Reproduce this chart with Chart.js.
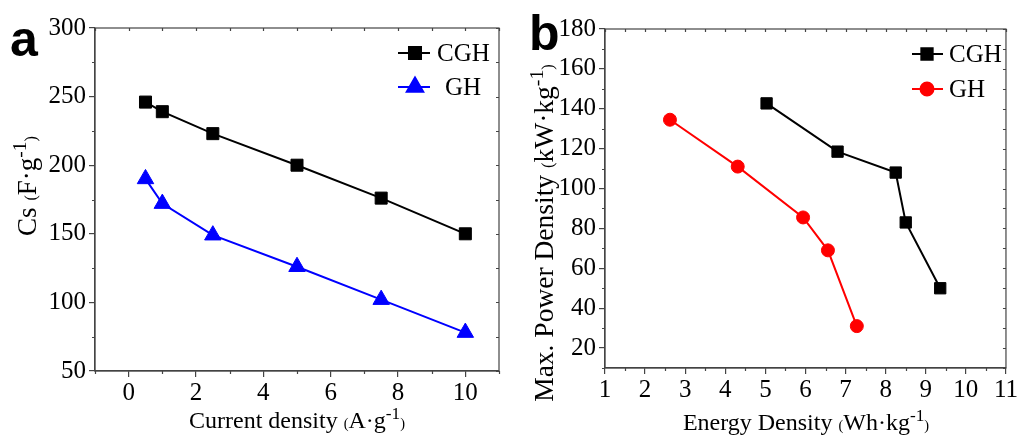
<!DOCTYPE html>
<html>
<head>
<meta charset="utf-8">
<script src="https://cdn.jsdelivr.net/npm/chart.js@4/dist/chart.umd.min.js"></script>
<style>
  body { margin: 0; background: #fff; width: 1019px; height: 438px; overflow: hidden; position: relative; font-family: 'Liberation Serif', 'Times New Roman', serif; }
  canvas { position: absolute; top: 0; }
  #chartA { left: 0; }
  #chartB { left: 510px; }
  .lbl { position: absolute; white-space: nowrap; color: #000; line-height: 1; transform: translate(-50%, -50%); }
  .rot { transform: translate(-50%, -50%) rotate(-90deg); }
  .par { font-size: 60%; }
  .u sup { font-size: 72%; vertical-align: 0.5em; line-height: 0; }
  .letter { position: absolute; font-family: 'Liberation Sans', Arial, sans-serif; font-weight: bold; font-size: 50px; line-height: 1; }
</style>
</head>
<body>
<canvas id="chartA" width="510" height="438"></canvas>
<canvas id="chartB" width="509" height="438"></canvas>

<div class="letter" style="left:10px; top:14px;">a</div>
<div class="letter" style="left:529px; top:8px;">b</div>

<div class="lbl" style="left:297px; top:420px; font-size:24px;">Current density <span class="par">(</span><span class="u">A·g<sup>-1</sup></span><span class="par">)</span></div>
<div class="lbl rot" style="left:27px; top:186px; font-size:27px;">Cs <span class="par">(</span><span class="u">F·g<sup>-1</sup></span><span class="par">)</span></div>
<div class="lbl" style="left:806px; top:422px; font-size:24px;">Energy Density <span class="par">(</span><span class="u">Wh·kg<sup>-1</sup></span><span class="par">)</span></div>
<div class="lbl rot" style="left:544px; top:233px; font-size:27.5px;">Max. Power Density <span class="par">(</span><span class="u">kW·kg<sup>-1</sup></span><span class="par">)</span></div>

<script>
// panel a: specific capacitance vs current density
const currentDensity = [0.5, 1, 2.5, 5, 7.5, 10];
const csCGH = [246, 239, 223, 200, 176, 150];
const csGH = [190, 172, 149, 126, 102, 78];
const xTicksA = [0, 2, 4, 6, 8, 10];
const yTicksA = [50, 100, 150, 200, 250, 300];

// panel b: Ragone plot
const energyCGH = [5.03, 6.8, 8.25, 8.5, 9.36];
const powerCGH = [142.7, 118.5, 108, 83, 50];
const energyGH = [2.62, 4.31, 5.94, 6.56, 7.28];
const powerGH = [134.5, 111, 85.5, 69, 31];
const xTicksB = [1, 2, 3, 4, 5, 6, 7, 8, 9, 10, 11];
const yTicksB = [20, 40, 60, 80, 100, 120, 140, 160, 180];

const seriesNames = ['CGH', 'GH'];

const axisColor = '#444';
const tickFont = { family: "'Liberation Serif', 'Times New Roman', serif", size: 25 };

function pairs(xs, ys) {
    return xs.map((x, i) => ({ x: x, y: ys[i] }));
}

// box frame, minor ticks and the small mirrored ticks on top/right
const framePlugin = {
    id: 'frame',
    afterDraw(chart, args, opts) {
        const { ctx, chartArea: a, scales } = chart;
        const xs = scales.x, ys = scales.y;
        ctx.save();
        ctx.strokeStyle = axisColor;
        ctx.lineWidth = 1.2;
        ctx.strokeRect(a.left, a.top, a.right - a.left, a.bottom - a.top);

        ctx.beginPath();
        for (let v = opts.xStart; v <= xs.max + 1e-9; v += opts.xMinor) {
            const px = Math.round(xs.getPixelForValue(v)) + 0.5;
            const isMajor = Math.abs(v / opts.xMajor - Math.round(v / opts.xMajor)) < 1e-6 && v >= opts.xFirst;
            if (!isMajor) {
                ctx.moveTo(px, a.bottom);
                ctx.lineTo(px, a.bottom + 3);
            }
            ctx.moveTo(px, a.top);
            ctx.lineTo(px, a.top + 3);
        }
        for (let v = opts.yStart; v <= ys.max + 1e-9; v += opts.yMinor) {
            const py = Math.round(ys.getPixelForValue(v)) + 0.5;
            const isMajor = Math.abs(v / opts.yMajor - Math.round(v / opts.yMajor)) < 1e-6 && v >= opts.yFirst;
            if (!isMajor) {
                ctx.moveTo(a.left, py);
                ctx.lineTo(a.left - 3, py);
            }
            ctx.moveTo(a.right, py);
            ctx.lineTo(a.right - 3, py);
        }
        ctx.stroke();
        ctx.restore();
    }
};

// legend drawn inside the plot, Origin style
const legendPlugin = {
    id: 'insideLegend',
    afterDatasetsDraw(chart, args, opts) {
        const ctx = chart.ctx;
        ctx.save();
        chart.data.datasets.forEach((ds, i) => {
            const row = opts.rows[i];
            ctx.strokeStyle = ds.borderColor;
            ctx.lineWidth = 2;
            ctx.beginPath();
            ctx.moveTo(row.x1, row.y);
            ctx.lineTo(row.x2, row.y);
            ctx.stroke();
            ctx.fillStyle = ds.pointBackgroundColor;
            Chart.helpers.drawPoint(ctx, {
                pointStyle: ds.pointStyle,
                radius: ds.pointRadius,
                borderWidth: 1
            }, row.mx, row.y);
            ctx.fillStyle = '#000';
            ctx.font = "25px 'Liberation Serif', 'Times New Roman', serif";
            ctx.textBaseline = 'middle';
            ctx.fillText(ds.label, row.tx, row.y + 1);
        });
        ctx.restore();
    }
};

function makeScale(min, max, tickValues, fixedSize, isY) {
    return {
        type: 'linear',
        min: min,
        max: max,
        afterBuildTicks(scale) {
            scale.ticks = tickValues.map(v => ({ value: v }));
        },
        afterFit(scale) {
            if (isY) scale.width = fixedSize; else scale.height = fixedSize;
        },
        ticks: {
            color: '#000',
            font: tickFont,
            padding: isY ? 3 : 1,
            maxRotation: 0,
            autoSkip: false
        },
        grid: {
            drawOnChartArea: false,
            drawTicks: true,
            tickLength: 6,
            color: axisColor,
            lineWidth: 1.2
        },
        border: { color: axisColor, width: 1.2 },
        title: { display: false }
    };
}

function makeDataset(label, xs, ys, color, style, radius) {
    return {
        label: label,
        data: pairs(xs, ys),
        showLine: true,
        borderColor: color,
        borderWidth: 2,
        backgroundColor: color,
        pointBackgroundColor: color,
        pointBorderColor: color,
        pointBorderWidth: 1,
        pointStyle: style,
        pointRadius: radius,
        pointHoverRadius: radius
    };
}

const baseOptions = {
    responsive: false,
    animation: false,
    devicePixelRatio: 1,
    events: []
};

new Chart(document.getElementById('chartA'), {
    type: 'scatter',
    data: {
        datasets: [
            makeDataset(seriesNames[0], currentDensity, csCGH, '#000000', 'rect', 8.5),
            makeDataset(seriesNames[1], currentDensity, csGH, '#0000ff', 'triangle', 9.5)
        ]
    },
    options: {
        ...baseOptions,
        layout: { padding: { top: 28, right: 11, left: 0, bottom: 0 } },
        scales: {
            x: makeScale(-1, 11, xTicksA, 67, false),
            y: makeScale(50, 300, yTicksA, 95, true)
        },
        plugins: {
            legend: { display: false },
            tooltip: { enabled: false },
            frame: { xStart: -1, xFirst: 0, xMinor: 1, xMajor: 2, yStart: 50, yFirst: 50, yMinor: 25, yMajor: 50 },
            insideLegend: {
                rows: [
                    { x1: 398, x2: 430, mx: 415, y: 53, tx: 437 },
                    { x1: 398, x2: 430, mx: 415, y: 87, tx: 445 }
                ]
            }
        }
    },
    plugins: [framePlugin, legendPlugin]
});

new Chart(document.getElementById('chartB'), {
    type: 'scatter',
    data: {
        datasets: [
            makeDataset(seriesNames[0], energyCGH, powerCGH, '#000000', 'rect', 8),
            makeDataset(seriesNames[1], energyGH, powerGH, '#ff0000', 'circle', 6.5)
        ]
    },
    options: {
        ...baseOptions,
        layout: { padding: { top: 29, right: 11, left: 0, bottom: 0 } },
        scales: {
            x: makeScale(1, 11, xTicksB, 70, false),
            y: makeScale(10, 180, yTicksB, 95, true)
        },
        plugins: {
            legend: { display: false },
            tooltip: { enabled: false },
            frame: { xStart: 1, xFirst: 1, xMinor: 0.5, xMajor: 1, yStart: 10, yFirst: 20, yMinor: 10, yMajor: 20 },
            insideLegend: {
                rows: [
                    { x1: 402, x2: 433, mx: 417, y: 54, tx: 439 },
                    { x1: 402, x2: 433, mx: 417, y: 89, tx: 439 }
                ]
            }
        }
    },
    plugins: [framePlugin, legendPlugin]
});
</script>
</body>
</html>
